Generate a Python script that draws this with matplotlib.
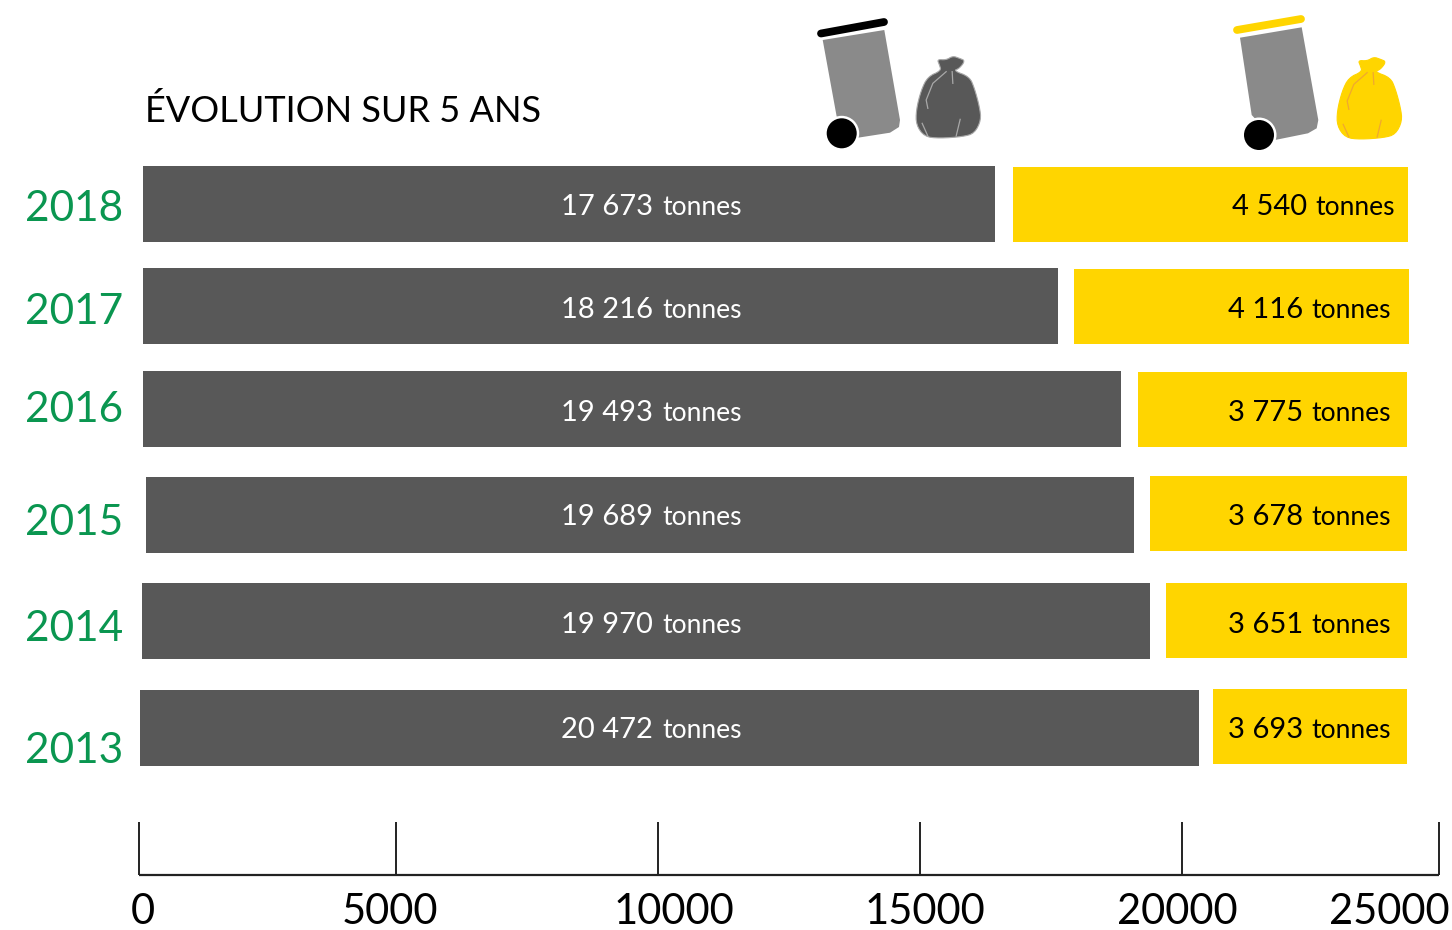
import numpy as np
import matplotlib.pyplot as plt
from matplotlib.patches import Polygon, Circle

plt.rcParams['font.family'] = ['Lato', 'DejaVu Sans']

years = ['2018', '2017', '2016', '2015', '2014', '2013']
grey_labels = ['17 673', '18 216', '19 493', '19 689', '19 970', '20 472']
yellow_labels = ['4 540', '4 116', '3 775', '3 678', '3 651', '3 693']

# bar ends (they do not follow the printed labels)
grey_start = [77, 77, 77, 135, 58, 19]
grey_end = [16462, 17673, 18885, 19135, 19442, 20385]
yellow_start = [16808, 17981, 19212, 19442, 19750, 20654]
yellow_end = [24404, 24423, 24385, 24385, 24385, 24385]

tick_values = [0, 4942, 9981, 15019, 20058, 25000]
tick_labels = ['0', '5000', '10000', '15000', '20000', '25000']

# layout in pixels
W, H = 1452, 930
grey_top = [166, 268, 371, 477, 583, 690]
yellow_top = [167, 269, 372, 476, 583, 689]
bar_h = 76
year_y = [209, 312, 410, 523, 629, 751]
text_y = [207, 310, 413, 517, 625, 730]
yellow_right = [1395, 1391, 1391, 1391, 1391, 1391]
tick_label_x = [143, 390, 674, 925, 1177, 1389]

GREY = '#585858'
YELLOW = '#FFD500'
GREEN = '#0A9650'

fig = plt.figure(figsize=(W / 100, H / 100), dpi=100)
# x in tonnes (0 at pixel 139, 0.052 px per tonne), y in pixels
ax = fig.add_axes([0, 0, 1, 1])
ax.set_xlim(-139 / 0.052, (W - 139) / 0.052)
ax.set_ylim(H, 0)
ax.axis('off')

px = fig.add_axes([0, 0, 1, 1], facecolor='none')
px.set_xlim(0, W)
px.set_ylim(H, 0)
px.axis('off')

for i in range(6):
    ax.barh(grey_top[i], grey_end[i] - grey_start[i], left=grey_start[i], height=bar_h,
            align='edge', color=GREY)
    ax.barh(yellow_top[i], yellow_end[i] - yellow_start[i], left=yellow_start[i],
            height=bar_h - 1, align='edge', color=YELLOW)
    px.text(123, year_y[i], years[i], ha='right', va='center', color=GREEN, fontsize=30.5)
    px.text(653, text_y[i], grey_labels[i], ha='right', va='center', color='white', fontsize=21)
    px.text(662, text_y[i], 'tonnes', ha='left', va='center', color='white', fontsize=19)
    r = yellow_right[i]
    px.text(r - 88, text_y[i], yellow_labels[i], ha='right', va='center', color='black', fontsize=21)
    px.text(r, text_y[i], 'tonnes', ha='right', va='center', color='black', fontsize=19)

px.text(145, 111, 'ÉVOLUTION SUR 5 ANS', ha='left', va='center', color='black', fontsize=26)

# axis
ax.plot([tick_values[0], tick_values[-1]], [875, 875], color='#222222', lw=1.6, solid_capstyle='butt')
ax.vlines(tick_values, 822, 875, color='#222222', lw=1.4)
for x, t in zip(tick_label_x, tick_labels):
    px.text(x, 912, t, ha='center', va='center', color='black', fontsize=30)


def smooth(pts, n=3):
    pts = np.array(pts, dtype=float)
    for _ in range(n):
        nxt = np.roll(pts, -1, axis=0)
        pts = np.column_stack([0.75 * pts + 0.25 * nxt, 0.25 * pts + 0.75 * nxt]).reshape(-1, 2)
    return pts


def draw_bin(lid, body, wheel, lid_color):
    px.plot(*zip(*lid), color=lid_color, lw=5.6, solid_capstyle='round')
    px.add_patch(Polygon(body, closed=True, color='#8A8A8A', lw=0))
    px.add_patch(Circle(wheel, 17.5, color='white', lw=0, zorder=3))
    px.add_patch(Circle(wheel, 15, color='black', lw=0, zorder=4))


bag_outline = [(413, 178), (440, 180), (460, 168), (480, 175), (497, 182), (480, 205), (462, 212),
               (510, 230), (525, 265), (540, 320), (545, 360), (525, 400), (490, 410), (420, 415),
               (375, 410), (350, 375), (350, 330), (365, 270), (385, 230), (425, 212), (420, 195)]
bag_creases = [[(440, 215), (400, 250), (380, 300), (385, 325)], [(458, 215), (460, 250)],
               [(368, 370), (385, 408)], [(482, 358), (470, 408)]]


def draw_bag(x0, y0, fill, edge, crease):
    pts = smooth(bag_outline, 2) / 3 + (x0, y0)
    px.add_patch(Polygon(pts, closed=True, facecolor=fill, edgecolor=edge, lw=0.8))
    for c in bag_creases:
        c = np.array(c) / 3 + (x0, y0)
        px.plot(c[:, 0], c[:, 1], color=crease, lw=0.9)


draw_bin([(821, 33.5), (884, 22)], [(822.7, 40), (884.3, 30), (900, 120), (899, 127), (890, 132.7),
                                     (858, 137.7), (836.7, 116.7)], (841.7, 133.3), 'black')
draw_bag(799.5, 0, GREY, '#A8A8A8', '#A8A8A8')
draw_bin([(1237, 30), (1301, 19)], [(1240, 37.7), (1301.7, 27.3), (1318.3, 120), (1316.7, 128.3), (1308, 133.3),
                                     (1275, 140), (1251.7, 115)], (1259, 135), YELLOW)
draw_bag(1220.5, 1, YELLOW, YELLOW, '#F0A830')

fig.savefig('out.png', dpi=100)
